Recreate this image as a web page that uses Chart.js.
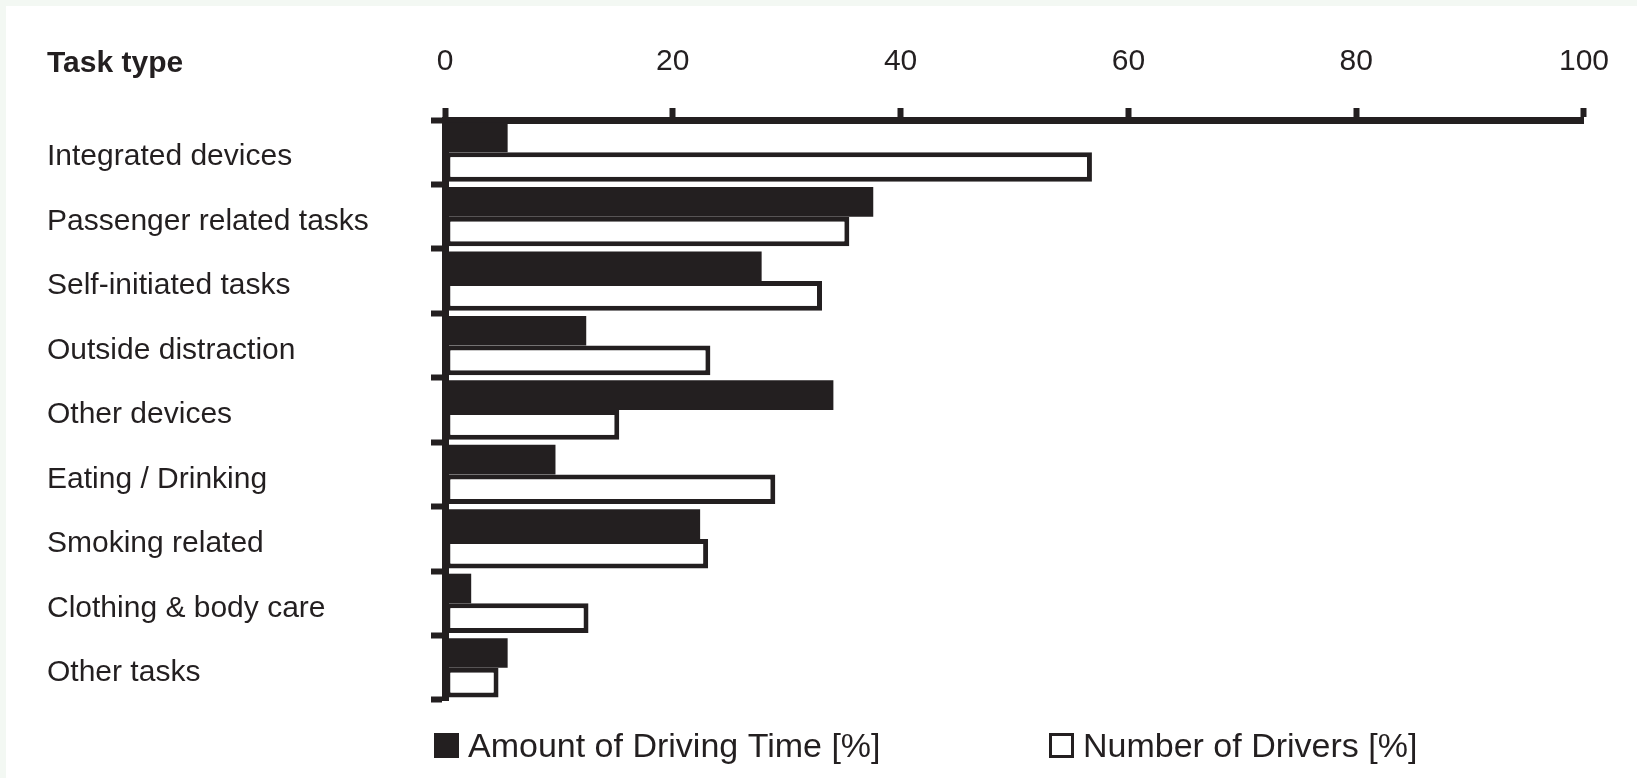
<!DOCTYPE html>
<html>
<head>
<meta charset="utf-8">
<script src="https://cdn.jsdelivr.net/npm/chart.js@4.4.1/dist/chart.umd.min.js"></script>
<style>
  html, body { margin: 0; padding: 0; background: #f3f8f3; }
  #wrap { width: 1637px; height: 778px; position: relative; }
</style>
</head>
<body>
<div id="wrap"><canvas id="chart" width="1637" height="778"></canvas></div>
<script>
// chart data
const taskTypes = [
    "Integrated devices",
    "Passenger related tasks",
    "Self-initiated tasks",
    "Outside distraction",
    "Other devices",
    "Eating / Drinking",
    "Smoking related",
    "Clothing & body care",
    "Other tasks"
];
const drivingTime = [5.5, 37.6, 27.8, 12.4, 34.1, 9.7, 22.4, 2.3, 5.5];
const numDrivers = [56.8, 35.5, 33.1, 23.3, 15.3, 29.0, 23.1, 12.6, 4.7];
const xTicks = [0, 20, 40, 60, 80, 100];
const headerText = "Task type";

const ink = '#231f20';
const fontName = '"Liberation Sans", Arial, sans-serif';

// paints the pale frame + white sheet behind everything
const bgPlugin = {
    id: 'bg',
    beforeDraw(chart) {
        const ctx = chart.ctx;
        ctx.save();
        ctx.fillStyle = '#f3f8f3';
        ctx.fillRect(0, 0, chart.width, chart.height);
        ctx.fillStyle = '#ffffff';
        ctx.fillRect(6, 6, chart.width - 6, chart.height - 6);
        ctx.restore();
    }
};

// header text and the legend along the bottom
const extrasPlugin = {
    id: 'extras',
    afterDraw(chart) {
        const ctx = chart.ctx;
        ctx.save();
        ctx.fillStyle = ink;
        ctx.textBaseline = 'middle';
        ctx.textAlign = 'left';
        ctx.font = 'bold 30px ' + fontName;
        ctx.fillText(headerText, 47, 64);

        const legendX = [434, 1049];
        chart.data.datasets.forEach((ds, i) => {
            const x = legendX[i];
            if (i === 0) {
                ctx.fillStyle = ds.backgroundColor;
                ctx.fillRect(x, 733, 25, 25);
            } else {
                ctx.strokeStyle = ink;
                ctx.lineWidth = 3;
                ctx.strokeRect(x + 1.5, 734.5, 22, 22);
            }
            ctx.fillStyle = ink;
            ctx.font = '34px ' + fontName;
            ctx.fillText(ds.label, x + 34, 748);
        });
        ctx.restore();
    }
};

const ctx = document.getElementById('chart').getContext('2d');
const myChart = new Chart(ctx, {
    type: 'bar',
    data: {
        labels: taskTypes,
        datasets: [
            {
                label: 'Amount of Driving Time [%]',
                data: drivingTime,
                backgroundColor: ink,
                borderWidth: 0,
                categoryPercentage: 0.92,
                barPercentage: 1
            },
            {
                label: 'Number of Drivers [%]',
                data: numDrivers,
                backgroundColor: '#ffffff',
                borderColor: ink,
                borderWidth: 5,
                borderSkipped: false,
                categoryPercentage: 0.92,
                barPercentage: 1
            }
        ]
    },
    options: {
        indexAxis: 'y',
        responsive: false,
        animation: false,
        layout: {
            padding: { left: 47, right: 48, top: 0, bottom: 78 }
        },
        plugins: {
            legend: { display: false },
            tooltip: { enabled: false }
        },
        scales: {
            x: {
                position: 'top',
                min: 0,
                max: 100,
                afterBuildTicks: (axis) => {
                    axis.ticks = xTicks.map(v => ({ value: v }));
                },
                afterFit: (axis) => { axis.height = 120; },
                border: { display: true, color: ink, width: 7 },
                grid: {
                    drawOnChartArea: false,
                    drawTicks: true,
                    tickLength: 12,
                    tickWidth: 6,
                    tickColor: ink
                },
                ticks: {
                    color: ink,
                    padding: 28,
                    maxRotation: 0,
                    font: { family: fontName, size: 30 }
                }
            },
            y: {
                position: 'left',
                afterFit: (axis) => { axis.width = 398; },
                border: { display: true, color: ink, width: 7 },
                grid: {
                    offset: true,
                    drawOnChartArea: false,
                    drawTicks: true,
                    tickLength: 14,
                    tickWidth: 6,
                    tickColor: ink
                },
                ticks: {
                    color: ink,
                    crossAlign: 'far',
                    labelOffset: 5,
                    font: { family: fontName, size: 30 }
                }
            }
        }
    },
    plugins: [bgPlugin, extrasPlugin]
});
</script>
</body>
</html>
